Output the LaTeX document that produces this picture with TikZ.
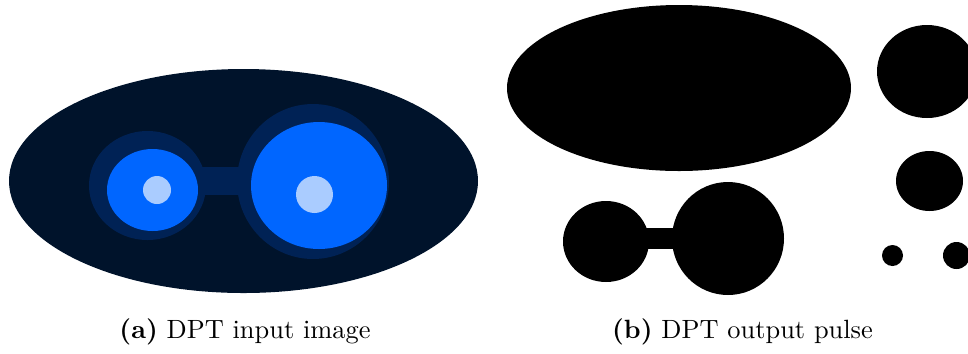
\documentclass[tikz,border=0pt]{standalone}
\usepackage{tikz}
\definecolor{nightblue}{RGB}{0,19,43}
\definecolor{haloblue}{RGB}{0,34,85}
\definecolor{brightblue}{RGB}{0,102,255}
\definecolor{paleblue}{RGB}{170,204,255}

\begin{document}
\begin{tikzpicture}[x=0.3788pt,y=-0.3788pt]
\tikzset{caption/.style={anchor=base,inner sep=0pt}}
\useasboundingbox (0,0) rectangle (968,353);
% (a) input image
\fill[nightblue] (243.5,181) ellipse (234.5 and 112);
\fill[haloblue] (147.5,185.5) ellipse (58.5 and 54.5);
\fill[haloblue] (313,181.5) ellipse (76 and 77.5);
\fill[haloblue] (200,167) rectangle (240,195);
\fill[brightblue] (152.5,190) ellipse (45.5 and 41);
\fill[brightblue] (319,185.5) ellipse (68 and 63.5);
\fill[paleblue] (157,190) circle (14);
\fill[paleblue] (314.5,194.5) circle (18.5);
% (b) output pulse
\begin{scope}
\clip (500,0) rectangle (968,353);
\fill[black] (679,88) ellipse (172 and 83);
\fill[black] (927,71.5) ellipse (50 and 46.5);
\fill[black] (929.5,181) ellipse (33.5 and 30);
\fill[black] (892.5,255.5) circle (10.5);
\fill[black] (956.5,255.5) circle (13.5);
\fill[black] (606,241.5) ellipse (43 and 40.5);
\fill[black] (728,238.5) ellipse (56 and 56.5);
\fill[black] (645,228) rectangle (674,249);
\end{scope}
% captions
\node[caption] (capa) at (245,338) {\textbf{(a)} DPT input image};
\node[caption] (capb) at (742.5,338) {\textbf{(b)} DPT output pulse};
\end{tikzpicture}
\end{document}
